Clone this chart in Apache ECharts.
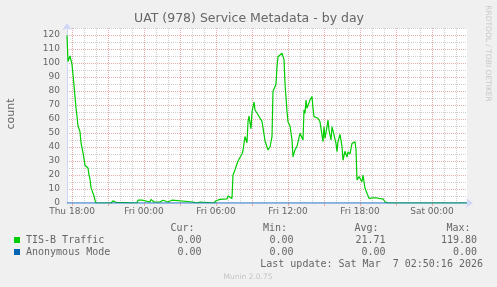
<!DOCTYPE html>
<html><head><meta charset="utf-8">
<script src="https://cdn.jsdelivr.net/npm/echarts@6/dist/echarts.min.js"></script>
<style>html,body{margin:0;padding:0;background:#f0f0f0}#c{width:497px;height:287px}</style>
</head><body><div id="c"></div><script>
// time categories, 5-minute steps starting Thu 17:35
const days = ['Thu', 'Fri', 'Sat'];
const categories = [];
for (let i = 0; i <= 400; i++) {
  const m = 17 * 60 + 35 + i * 5;
  const d = Math.floor(m / 1440), r = m % 1440;
  categories.push(days[d] + ' ' + String(Math.floor(r / 60)).padStart(2, '0') + ':' + String(r % 60).padStart(2, '0'));
}
const tickLabels = ['Thu 18:00', 'Fri 00:00', 'Fri 06:00', 'Fri 12:00', 'Fri 18:00', 'Sat 00:00'];

// [category index, value]
const tisbTraffic = [
[0,119.8],[1,101],[2,103],[3,105],[4,102],[5,99],[7,84],[9,68],[10,62],[11,55],[12,56],[13,51],[14,43],[15,42],[16,36],[17,35],[18,27],[19,26],[21,25],[22,20],[23,17],[24,11],[25,9],[26,8],[27,5],[28,2],[29,0],
[44,0],[45,1],[46,1.5],[47,2],[48,2],[49,0.5],[50,0],
[70,0],[71,2],[75,2],[76,0.7],[83,0.7],[84,2.6],[86,2.6],[87,0.7],[93,0.7],[94,2],[96,2],[97,0.7],[101,0.7],[102,2],[105,2],[106,0.7],[126,0.7],[127,0],[130,0],[131,0.7],[133,0.7],[134,0],
[147,0],[149,1.6],[153,2.6],[160,2.9],[161,5],[163,4.5],[165,3.3],[166,20],[168,23.6],[170,28],[171,30],[173,30.5],[175,35],[176,37.5],[178,47.5],[180,43],[181,58],[182,62],[184,53],[185,65],[187,72],[188,66.4],[190,65],[191,63],[193,63],[195,58.3],[196,58],[198,44.5],[200,40],[201,38],[203,40],[205,47.4],[206,80],[208,83],[209,85.2],[210,97.4],[211,104.5],[213,103.3],[215,107],[216,108],[217,102.4],[218,85.5],[220,65.3],[221,58],[223,55],[225,45],[226,33],[228,38],[230,40.5],[231,40],[233,49.8],[235,48.6],[236,45],[237,66.4],[238,64],[239,73.6],[240,67.6],[241,68.6],[243,73.6],[245,76],[246,67.6],[247,61.7],[249,60.5],[251,60.5],[253,58],[255,56.9],[256,43.8],[257,54.5],[258,46.2],[260,54.5],[261,59.3],[262,52.1],[264,45],[265,54.5],[267,55.7],[269,42.6],[270,36.7],[271,43.8],[273,49],[275,40.5],[276,30.5],[278,37],[280,32.8],[281,36.5],[283,35],[285,42.6],[286,42.6],[288,43.8],[289,37.9],[290,16.4],[292,18.8],[293,20],[295,15.2],[296,20],[298,10.5],[299,9.3],[300,11.7],[302,3.3],[303,3.6],[306,3.6],[308,4.5],[310,3.6],[311,2.6],[313,3.1],[315,2.4],[316,2.9],[318,0.9],[320,0.9],[321,0],[324,0],[325,0.5],[326,0.5],[327,0],[400,0]
];
const anonymousMode = [[0,0],[400,0]];

const seriesNames = ['TIS-B Traffic', 'Anonymous Mode'];
const seriesColors = ['#00cc00', '#0066b3'];
const curVals = ['0.00', '0.00'];
const minVals = ['0.00', '0.00'];
const avgVals = ['21.71', '0.00'];
const maxVals = ['119.80', '0.00'];
const yTicks = [0, 125, 5];

const MAJOR = '#e6adad', MINOR = '#cfcfcf', AXIS = '#CFD6F8', FONT = '#666666';
const mono = 'DejaVu Sans Mono', sans = 'DejaVu Sans';
const isHour = (v) => /:00$/.test(v);
const hourOf = (v) => parseInt(v.slice(4, 6), 10);

const chart = echarts.init(document.getElementById('c'), null, {renderer: 'canvas'});
const g = [];
g.push({type:'text', x:249, y:18.5, style:{text:'UAT (978) Service Metadata - by day', align:'center', verticalAlign:'middle', fill:FONT, font:'12.5px ' + sans}});
g.push({type:'text', x:487.5, y:53.5, rotation:-Math.PI/2, style:{text:'RRDTOOL / TOBI OETIKER', align:'center', verticalAlign:'middle', fill:'#c8c8c8', font:'7.5px ' + sans}});
g.push({type:'text', x:11.5, y:114, rotation:Math.PI/2, style:{text:'count', align:'center', verticalAlign:'middle', fill:FONT, font:'11px ' + sans}});
const hdrY = 228.5, rowY = [240, 252];
const cols = [[194.5, 201.5, 'Cur:', curVals], [287, 293.5, 'Min:', minVals], [378.5, 385.5, 'Avg:', avgVals], [470.5, 477, 'Max:', maxVals]];
cols.forEach(([hx, vx, h, vals]) => {
  g.push({type:'text', x:hx, y:hdrY, style:{text:h, align:'right', verticalAlign:'middle', fill:FONT, font:'10px ' + mono}});
  vals.forEach((v, k) => g.push({type:'text', x:vx, y:rowY[k], style:{text:v, align:'right', verticalAlign:'middle', fill:FONT, font:'10px ' + mono}}));
});
seriesNames.forEach((n, k) => {
  g.push({type:'rect', shape:{x:14, y:rowY[k]-3, width:6, height:6}, style:{fill:seriesColors[k]}});
  g.push({type:'text', x:26, y:rowY[k], style:{text:n, align:'left', verticalAlign:'middle', fill:FONT, font:'10px ' + mono}});
});
g.push({type:'text', x:483, y:264, style:{text:'Last update: Sat Mar  7 02:50:16 2026', align:'right', verticalAlign:'middle', fill:FONT, font:'10px ' + mono}});
g.push({type:'text', x:248, y:277, style:{text:'Munin 2.0.75', align:'center', verticalAlign:'middle', fill:'#c4c4c4', font:'7.5px ' + sans}});

chart.setOption({
  animation: false,
  backgroundColor: '#f0f0f0',
  grid: {left: 67, top: 28, width: 400, height: 175, show: true, backgroundColor: '#ffffff', borderWidth: 0, containLabel: false, outerBoundsMode: 'none'},
  xAxis: [{
    type: 'category', data: categories, boundaryGap: false,
    axisLine: {show: true, lineStyle: {color: AXIS, width: 1}, symbol: ['none', 'arrow'], symbolSize: [7, 7], symbolOffset: [0, 6]},
    axisTick: {show: true, length: 3, interval: (i, v) => isHour(v) && hourOf(v) % 3 === 0, lineStyle: {color: MAJOR}},
    axisLabel: {interval: (i, v) => tickLabels.includes(v), color: FONT, fontSize: 9, fontFamily: sans, margin: 4, hideOverlap: false},
    splitLine: {show: true, interval: (i, v) => isHour(v) && hourOf(v) % 3 === 0, lineStyle: {color: MAJOR, width: 1, type: [1, 1]}},
    z: 3
  }, {
    type: 'category', data: categories, boundaryGap: false, position: 'bottom',
    axisLine: {show: false}, axisTick: {show: false}, axisLabel: {show: false},
    splitLine: {show: true, interval: (i, v) => isHour(v) && hourOf(v) % 3 !== 0, lineStyle: {color: MINOR, width: 1, type: [1, 1]}}
  }],
  yAxis: {
    type: 'value', min: yTicks[0], max: yTicks[1], interval: yTicks[2],
    axisLine: {show: true, lineStyle: {color: AXIS, width: 1}, symbol: ['none', 'arrow'], symbolSize: [7, 7], symbolOffset: [0, 5]},
    axisTick: {show: false},
    axisLabel: {color: FONT, fontSize: 9, fontFamily: sans, margin: 7, formatter: (v) => (v % 10 === 0 ? String(v) : '')},
    splitLine: {show: true, lineStyle: {color: [MAJOR, MINOR], width: 1, type: [1, 1]}},
    z: 3
  },
  series: [{
    name: seriesNames[0], type: 'line', data: tisbTraffic, showSymbol: false, symbol: 'none',
    lineStyle: {color: seriesColors[0], width: 1.2}, itemStyle: {color: seriesColors[0]}, z: 4
  }, {
    name: seriesNames[1], type: 'line', data: anonymousMode, showSymbol: false, symbol: 'none',
    lineStyle: {color: seriesColors[1], width: 1}, itemStyle: {color: seriesColors[1]}, z: 5
  }],
  graphic: g
});
</script></body></html>
